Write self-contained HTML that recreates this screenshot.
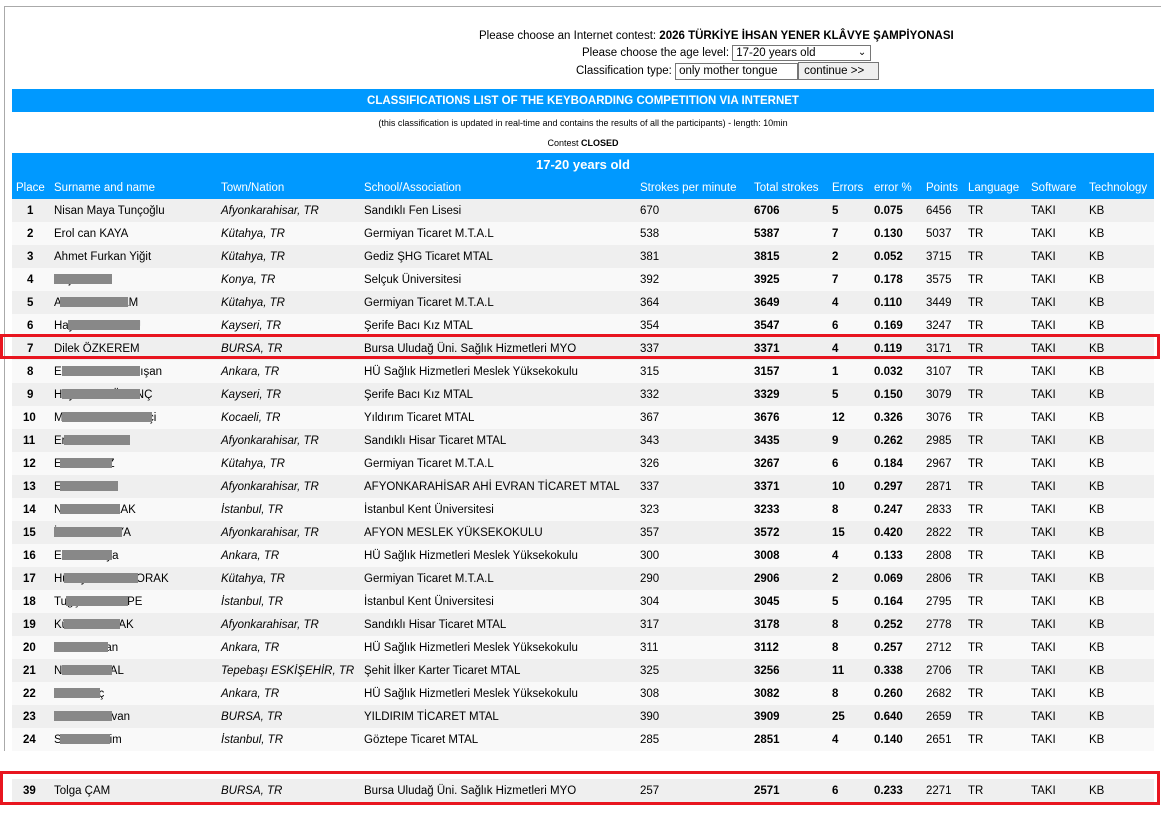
<!DOCTYPE html>
<html><head><meta charset="utf-8"><style>
body{margin:0;width:1161px;height:816px;background:#fff;position:relative;overflow:hidden;font-family:Tahoma,"Liberation Sans","DejaVu Sans",sans-serif;font-size:11.5px;color:#000}
.a{position:absolute;white-space:nowrap}
.frame{position:absolute;left:4px;top:6px;width:1160px;height:744px;border-left:1px solid #aaa;border-top:1px solid #aaa}
.blue{position:absolute;left:12px;width:1142px;background:#0099ff;color:#fff;font-weight:bold;text-align:center}
.row{position:absolute;left:12px;width:1142px;height:23px}
.row div{position:absolute;top:6px;white-space:nowrap}
.b{font-weight:bold}
.i{font-style:italic}
.box{position:absolute;height:10px;top:6px!important;background:#888}
.red{position:absolute;left:0;width:1154px;border:3px solid #e8151f}
</style></head><body>
<div class="frame"></div>
<div class="a" style="left:479px;top:30px">Please choose an Internet contest: <b>2026 TÜRKİYE İHSAN YENER KLÂVYE ŞAMPİYONASI</b></div>
<div class="a" style="left:582px;top:45px">Please choose the age level: <span style="display:inline-block;border:1px solid #767676;width:134px;height:14px;line-height:14px;vertical-align:middle;padding-left:3px">17-20 years old<span style="float:right;padding-right:4px;font-size:10px">&#8964;</span></span></div>
<div class="a" style="left:576px;top:62px">Classification type: <span style="display:inline-block;border:1px solid #767676;width:118px;height:15px;line-height:15px;vertical-align:middle;padding-left:3px">only mother tongue</span><span style="display:inline-block;border:1px solid #767676;background:#efefef;width:74px;height:16px;line-height:16px;vertical-align:middle;padding-left:5px">continue &gt;&gt;</span></div>
<div class="blue" style="top:89px;height:23px;line-height:24px;font-size:11.5px">CLASSIFICATIONS LIST OF THE KEYBOARDING COMPETITION VIA INTERNET</div>
<div class="a" style="left:12px;width:1142px;text-align:center;top:118px;font-size:9px">(this classification is updated in real-time and contains the results of all the participants) - length: 10min</div>
<div class="a" style="left:12px;width:1142px;text-align:center;top:138px;font-size:9px">Contest <b>CLOSED</b></div>
<div class="blue" style="top:153px;height:46px;line-height:23px;font-size:13px">17-20 years old</div>
<div class="row" style="top:176px;color:#fff"><div style="left:4px">Place</div><div style="left:42px">Surname and name</div><div style="left:209px">Town/Nation</div><div style="left:352px">School/Association</div><div style="left:628px">Strokes per minute</div><div style="left:742px">Total strokes</div><div style="left:820px">Errors</div><div style="left:862px">error %</div><div style="left:914px">Points</div><div style="left:956px">Language</div><div style="left:1019px">Software</div><div style="left:1077px">Technology</div></div>
<div id="rows"></div>
<div class="red" style="top:334px;height:19px"></div>
<div class="red" style="top:771px;height:28px"></div>
<script>
var d=[
[1,"Nisan Maya Tunçoğlu",0,0,"Afyonkarahisar, TR","Sandıklı Fen Lisesi",670,6706,5,"0.075",6456],
[2,"Erol can KAYA",0,0,"Kütahya, TR","Germiyan Ticaret M.T.A.L",538,5387,7,"0.130",5037],
[3,"Ahmet Furkan Yiğit",0,0,"Kütahya, TR","Gediz ŞHG Ticaret MTAL",381,3815,2,"0.052",3715],
[4,"Nejla Vural",0,58,"Konya, TR","Selçuk Üniversitesi",392,3925,7,"0.178",3575],
[5,"Ahmet BAYRAM",6,68,"Kütahya, TR","Germiyan Ticaret M.T.A.L",364,3649,4,"0.110",3449],
[6,"Hayrettin KUTLU",14,72,"Kayseri, TR","Şerife Bacı Kız MTAL",354,3547,6,"0.169",3247],
[7,"Dilek ÖZKEREM",0,0,"BURSA, TR","Bursa Uludağ Üni. Sağlık Hizmetleri MYO",337,3371,4,"0.119",3171],
[8,"Esma Dernis Dalışan",8,78,"Ankara, TR","HÜ Sağlık Hizmetleri Meslek Yüksekokulu",315,3157,1,"0.032",3107],
[9,"Hayrettin GÜVENÇ",8,78,"Kayseri, TR","Şerife Bacı Kız MTAL",332,3329,5,"0.150",3079],
[10,"Mehmet Emin Kökçi",8,90,"Kocaeli, TR","Yıldırım Ticaret MTAL",367,3676,12,"0.326",3076],
[11,"Emre YILMAN",10,66,"Afyonkarahisar, TR","Sandıklı Hisar Ticaret MTAL",343,3435,9,"0.262",2985],
[12,"Elif YILMAZ",6,52,"Kütahya, TR","Germiyan Ticaret M.T.A.L",326,3267,6,"0.184",2967],
[13,"Emre YILMT",6,58,"Afyonkarahisar, TR","AFYONKARAHİSAR AHİ EVRAN TİCARET MTAL",337,3371,10,"0.297",2871],
[14,"Nilüfer SARLAK",6,60,"İstanbul, TR","İstanbul Kent Üniversitesi",323,3233,8,"0.247",2833],
[15,"İrem Nur KAYA",0,68,"Afyonkarahisar, TR","AFYON MESLEK YÜKSEKOKULU",357,3572,15,"0.420",2822],
[16,"Ebru Akkaya",8,50,"Ankara, TR","HÜ Sağlık Hizmetleri Meslek Yüksekokulu",300,3008,4,"0.133",2808],
[17,"Hüseyin Emre TORAK",10,74,"Kütahya, TR","Germiyan Ticaret M.T.A.L",290,2906,2,"0.069",2806],
[18,"Tuğçe BOZTEPE",12,62,"İstanbul, TR","İstanbul Kent Üniversitesi",304,3045,5,"0.164",2795],
[19,"Kübra SAYRAK",10,56,"Afyonkarahisar, TR","Sandıklı Hisar Ticaret MTAL",317,3178,8,"0.252",2778],
[20,"Onur Yaman",0,54,"Ankara, TR","HÜ Sağlık Hizmetleri Meslek Yüksekokulu",311,3112,8,"0.257",2712],
[21,"Nisa KARTAL",8,50,"Tepebaşı ESKİŞEHİR, TR","Şehit İlker Karter Ticaret MTAL",325,3256,11,"0.338",2706],
[22,"Elif Avdaç",0,46,"Ankara, TR","HÜ Sağlık Hizmetleri Meslek Yüksekokulu",308,3082,8,"0.260",2682],
[23,"Selim Pehlivan",0,58,"BURSA, TR","YILDIRIM TİCARET MTAL",390,3909,25,"0.640",2659],
[24,"Semih Sevim",6,50,"İstanbul, TR","Göztepe Ticaret MTAL",285,2851,4,"0.140",2651],
[39,"Tolga ÇAM",0,0,"BURSA, TR","Bursa Uludağ Üni. Sağlık Hizmetleri MYO",257,2571,6,"0.233",2271]];
var h="";
d.forEach(function(r,k){
 var top=k<24?199+k*23:779;
 var bg=(k%2==0||k==24)?"#efefef":"#f9f9f9";
 var c=r[0]<10?"left:15px":"left:11px";
 h+='<div class="row" style="top:'+top+'px;background:'+bg+'"><div class="b" style="'+c+'">'+r[0]+'</div><div style="left:42px">'+r[1]+'</div>'+(r[3]?'<div class="box" style="left:'+(42+r[2])+'px;width:'+r[3]+'px"></div>':'')+'<div class="i" style="left:209px">'+r[4]+'</div><div style="left:352px">'+r[5]+'</div><div style="left:628px">'+r[6]+'</div><div class="b" style="left:742px">'+r[7]+'</div><div class="b" style="left:820px">'+r[8]+'</div><div class="b" style="left:862px">'+r[9]+'</div><div style="left:914px">'+r[10]+'</div><div style="left:956px">TR</div><div style="left:1019px">TAKI</div><div style="left:1077px">KB</div></div>';
});
document.getElementById("rows").innerHTML=h;
</script>
</body></html>
